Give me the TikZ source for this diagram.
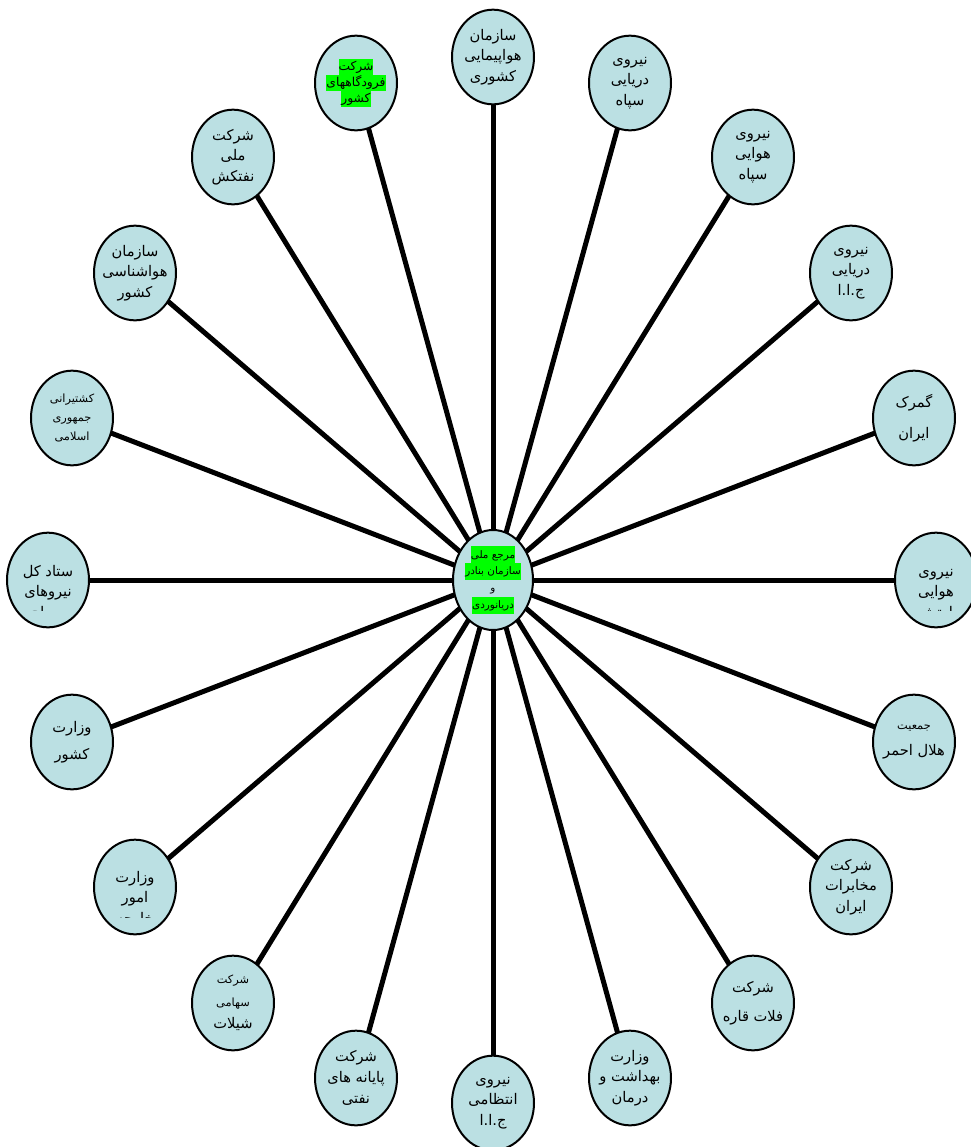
\documentclass[tikz,border=0pt]{standalone}
\usepackage{fontspec}
\newfontfamily\arabicfont[Script=Arabic]{DejaVu Sans}
\usetikzlibrary{shapes.geometric,calc}
\TeXXeTstate=1

\definecolor{orgfill}{RGB}{187,224,227}
\definecolor{marker}{RGB}{0,255,0}
\newcommand{\fatext}[1]{\beginR #1\endR}
\newcommand{\greenline}[1]{{\setlength{\fboxsep}{0pt}\colorbox{marker}{\strut\beginR #1\endR}}}
\newcommand{\smallfa}{\fontsize{8.5}{12}\selectfont}
\pgfdeclarelayer{background}
\pgfsetlayers{background,main}

\tikzset{every picture/.style={line width=0.75pt}}
\tikzset{
  org/.style={ellipse, draw, fill=orgfill, line width=1.5pt, minimum width=61.5pt,
    minimum height=71pt, inner sep=-4pt, align=center,
    font=\arabicfont\fontsize{11}{15.5}\selectfont},
  hubnode/.style={org, minimum width=60pt, minimum height=75pt, inner sep=-6pt,
    font=\arabicfont\fontsize{7.8}{12.6}\selectfont},
  orgtext/.style={inner sep=0pt, align=center, font=\arabicfont\fontsize{11}{15.5}\selectfont},
  spoke/.style={line width=3.75pt},
}

\begin{document}
\begin{tikzpicture}[x=0.75pt,y=0.75pt,yscale=-1,xscale=1]
\clip (0,0) rectangle (971,1147);

%Shape: Ellipse (centre)
\node[hubnode] (hub) at (493,580) {\greenline{مرجع ملی}\\\greenline{سازمان بنادر}\\\fatext{و}\\\greenline{دریانوردی}};

%Shape: Ellipse (top half)
\node[org] (cao) at (493,57) {\fatext{سازمان}\\\fatext{هواپیمایی}\\\fatext{کشوری}};
\node[org, font=\arabicfont\fontsize{9.2}{12}\selectfont] (airports) at (356,83) {\greenline{شرکت}\\\greenline{فرودگاههای}\\\greenline{کشور}};
\node[org] (irgcnavy) at (630,83) {\fatext{نیروی}\\\fatext{دریایی}\\\fatext{سپاه}};
\node[org] (tanker) at (233,157) {\fatext{شرکت}\\\fatext{ملی}\\\fatext{نفتکش}};
\node[org] (irgcair) at (753,157) {\fatext{نیروی}\\\fatext{هوایی}\\\fatext{سپاه}};
\node[org] (meteo) at (135,273) {\fatext{سازمان}\\\fatext{هواشناسی}\\\fatext{کشور}};
\node[org] (navy) at (851,273) {\fatext{نیروی}\\\fatext{دریایی}\\\fatext{ج.ا.ا}};
\node[org, font=\arabicfont\fontsize{8.5}{14}\selectfont] (shipping) at (72,418) {\fatext{کشتیرانی}\\\fatext{جمهوری}\\\fatext{اسلامی}};
\node[org, font=\arabicfont\fontsize{11}{23}\selectfont] (customs) at (914,418) {\fatext{گمرک}\\\fatext{ایران}};

%Shape: Ellipse (middle row, text cut off)
\node[org] (armed) at (48,580) {};
\node[org] (airforce) at (936,580) {};

%Shape: Ellipse (bottom half)
\node[org, font=\arabicfont\fontsize{11}{20}\selectfont] (interior) at (72,742) {\fatext{وزارت}\\\fatext{کشور}};
\node[org, font=\arabicfont\fontsize{11}{19}\selectfont] (redcrescent) at (914,742) {{\smallfa\fatext{جمعیت}}\\\fatext{هلال احمر}};
\node[org] (foreign) at (135,887) {};
\node[org] (telecom) at (851,887) {\fatext{شرکت}\\\fatext{مخابرات}\\\fatext{ایران}};
\node[org, font=\arabicfont\fontsize{11}{17}\selectfont] (fisheries) at (233,1003) {{\smallfa\fatext{شرکت}}\\{\smallfa\fatext{سهامی}}\\\fatext{شیلات}};
\node[org, font=\arabicfont\fontsize{11}{22}\selectfont] (shelf) at (753,1003) {\fatext{شرکت}\\\fatext{فلات قاره}};
\node[org] (terminals) at (356,1078) {\fatext{شرکت}\\\fatext{پایانه های}\\\fatext{نفتی}};
\node[org] (health) at (630,1078) {\fatext{وزارت}\\\fatext{بهداشت و}\\\fatext{درمان}};
\node[org] (police) at (493,1103) {\fatext{نیروی}\\\fatext{انتظامی}\\\fatext{ج.ا.ا}};

% Text Node (last line cut by the box)
\begin{scope}
\clip (armed.west |- armed.north) rectangle ($(armed.east |- armed.south)+(0,-18)$);
\node[orgtext] (armedtext) at ($(armed.center)+(0,13)$) {\fatext{ستاد کل}\\\fatext{نیروهای}\\\fatext{مسلح}};
\end{scope}
\begin{scope}
\clip (airforce.west |- airforce.north) rectangle ($(airforce.east |- airforce.south)+(0,-18)$);
\node[orgtext] (airforcetext) at ($(airforce.center)+(0,15)$) {\fatext{نیروی}\\\fatext{هوایی}\\\fatext{ارتش}};
\end{scope}
\begin{scope}
\clip (foreign.west |- foreign.north) rectangle ($(foreign.east |- foreign.south)+(0,-18)$);
\node[orgtext] (foreigntext) at ($(foreign.center)+(0,12)$) {\fatext{وزارت}\\\fatext{امور}\\\fatext{خارجه}};
\end{scope}

%Straight Lines
\begin{pgfonlayer}{background}
\draw[spoke] (hub.center) -- (cao.center);
\draw[spoke] (hub.center) -- (airports.center);
\draw[spoke] (hub.center) -- (irgcnavy.center);
\draw[spoke] (hub.center) -- (tanker.center);
\draw[spoke] (hub.center) -- (irgcair.center);
\draw[spoke] (hub.center) -- (meteo.center);
\draw[spoke] (hub.center) -- (navy.center);
\draw[spoke] (hub.center) -- (shipping.center);
\draw[spoke] (hub.center) -- (customs.center);
\draw[spoke] (hub.center) -- (armed.center);
\draw[spoke] (hub.center) -- (airforce.center);
\draw[spoke] (hub.center) -- (interior.center);
\draw[spoke] (hub.center) -- (redcrescent.center);
\draw[spoke] (hub.center) -- (foreign.center);
\draw[spoke] (hub.center) -- (telecom.center);
\draw[spoke] (hub.center) -- (fisheries.center);
\draw[spoke] (hub.center) -- (shelf.center);
\draw[spoke] (hub.center) -- (terminals.center);
\draw[spoke] (hub.center) -- (health.center);
\draw[spoke] (hub.center) -- (police.center);
\end{pgfonlayer}

\end{tikzpicture}
\end{document}
